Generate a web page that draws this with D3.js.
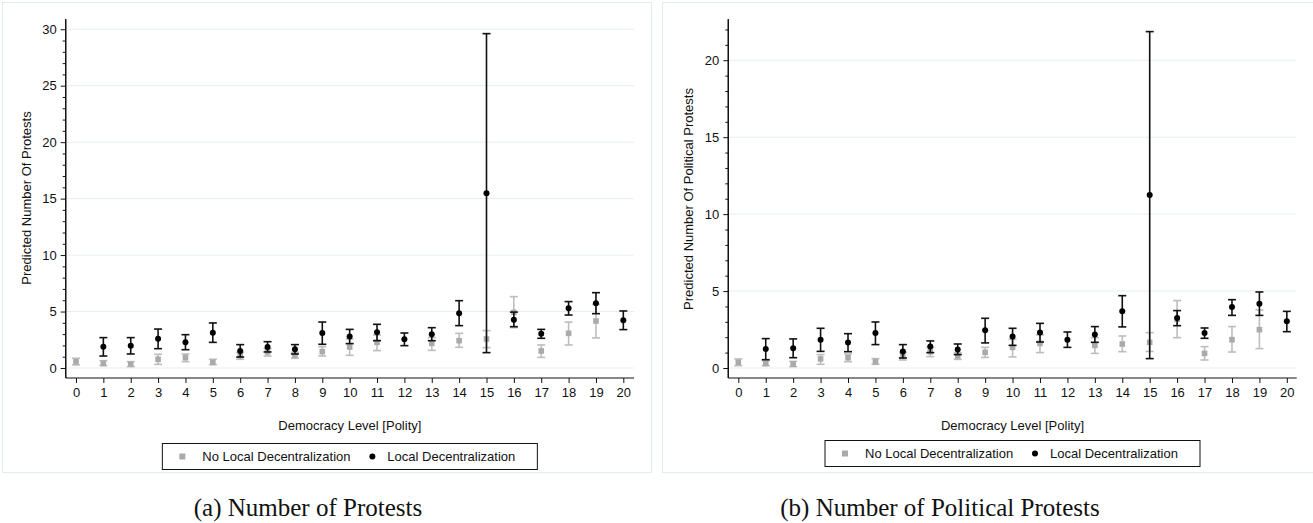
<!DOCTYPE html>
<html>
<head>
<meta charset="utf-8">
<script src="https://cdn.jsdelivr.net/npm/d3@7"></script>
<style>
  body { margin: 0; background: #fff; }
  svg text { font-family: "Liberation Sans", Arial, sans-serif; fill: #111; }
</style>
</head>
<body>
<script>
const levels = d3.range(0, 21);

// (a) Number of Protests
const protestsNoLocal = [0.56, 0.41, 0.35, 0.77, 0.92, 0.50, 1.09, 1.42, 1.15, 1.45, 1.86, 2.27, null, 2.18, 2.42, 2.57, 4.93, 1.51, 3.07, 4.16, null];
const protestsNoLocalLo = [0.27, 0.21, 0.12, 0.32, 0.56, 0.30, 0.77, 1.06, 0.86, 1.06, 1.12, 1.54, null, 1.56, 1.83, 1.80, 3.57, 0.94, 2.04, 2.66, null];
const protestsNoLocalHi = [0.86, 0.65, 0.56, 1.21, 1.24, 0.77, 1.39, 1.71, 1.39, 1.89, 2.57, 2.92, null, 2.69, 3.07, 3.31, 6.32, 2.04, 4.07, 5.64, null];
const protestsLocal = [null, 1.89, 1.98, 2.60, 2.27, 3.13, 1.51, 1.86, 1.65, 3.10, 2.78, 3.16, 2.54, 2.98, 4.84, 15.47, 4.28, 3.04, 5.28, 5.73, 4.22];
const protestsLocalLo = [null, 1.06, 1.24, 1.71, 1.62, 2.27, 0.97, 1.42, 1.24, 2.10, 2.16, 2.42, 1.98, 2.42, 3.75, 1.36, 3.66, 2.63, 4.69, 4.81, 3.40];
const protestsLocalHi = [null, 2.69, 2.69, 3.45, 2.95, 3.99, 2.07, 2.33, 2.07, 4.07, 3.42, 3.87, 3.10, 3.57, 5.96, 29.61, 4.95, 3.42, 5.88, 6.67, 5.05];

// (b) Number of Political Protests
const politicalNoLocal = [0.37, 0.30, 0.26, 0.59, 0.67, 0.41, 0.78, 1.06, 0.78, 1.02, 1.34, 1.60, null, 1.47, 1.56, 1.67, 3.16, 0.95, 1.84, 2.49, null];
const politicalNoLocalLo = [0.15, 0.15, 0.09, 0.24, 0.41, 0.24, 0.52, 0.74, 0.56, 0.69, 0.72, 1.00, null, 0.95, 1.06, 1.08, 1.97, 0.52, 1.04, 1.26, null];
const politicalNoLocalHi = [0.59, 0.48, 0.43, 0.87, 0.91, 0.61, 1.02, 1.34, 1.00, 1.34, 1.86, 2.15, null, 1.97, 2.08, 2.30, 4.38, 1.39, 2.69, 3.77, null];
const politicalLocal = [null, 1.24, 1.28, 1.84, 1.65, 2.28, 1.08, 1.39, 1.21, 2.45, 2.04, 2.30, 1.84, 2.17, 3.68, 11.25, 3.25, 2.28, 3.97, 4.18, 3.03];
const politicalLocalLo = [null, 0.54, 0.67, 1.08, 1.06, 1.52, 0.65, 1.00, 0.87, 1.63, 1.47, 1.69, 1.34, 1.67, 2.67, 0.61, 2.75, 1.93, 3.42, 3.42, 2.36];
const politicalLocalHi = [null, 1.91, 1.89, 2.58, 2.23, 2.99, 1.52, 1.76, 1.56, 3.23, 2.58, 2.90, 2.34, 2.69, 4.70, 21.86, 3.73, 2.60, 4.44, 4.94, 3.68];

const legendLabels = ["No Local Decentralization", "Local Decentralization"];
const xTitle = "Democracy Level [Polity]";

const W = 1313, H = 523;
const FS = 13;
const svg = d3.select("body").append("svg").attr("width", W).attr("height", H);

function drawPanel(opt) {
  const g = svg.append("g").attr("transform", `translate(${opt.left},0)`);

  // outer frame
  g.append("rect")
    .attr("x", 2.5).attr("y", 2.5)
    .attr("width", opt.frameW).attr("height", 470)
    .attr("fill", "none").attr("stroke", "#e3ebee").attr("stroke-width", 1);

  const x = d3.scaleLinear().domain(opt.xDomain).range([opt.axisX, opt.axisXEnd]);
  const y = d3.scaleLinear().domain(opt.yDomain).range([378, 19.3]);

  // grid
  g.append("g").selectAll("line").data(opt.yTicks).join("line")
    .attr("x1", opt.axisX).attr("x2", opt.axisXEnd)
    .attr("y1", d => y(d)).attr("y2", d => y(d))
    .attr("stroke", "#e6eef1").attr("stroke-width", 1);

  // y axis
  const minor = d3.range(0, Math.floor(opt.yDomain[1]) + 1).filter(v => v % 5 !== 0);
  const yMinor = g.append("g").attr("transform", `translate(${opt.axisX},0)`)
    .call(d3.axisLeft(y).tickValues(minor).tickSize(3).tickFormat(""));
  const yAxis = g.append("g").attr("transform", `translate(${opt.axisX},0)`)
    .call(d3.axisLeft(y).tickValues(opt.yTicks).tickSize(5).tickPadding(4));
  [yMinor, yAxis].forEach(a => {
    a.select(".domain").attr("d", `M0,19.3V378`).attr("stroke", "#111").attr("stroke-width", 1.2);
    a.selectAll(".tick line").attr("stroke", "#111");
  });
  yAxis.selectAll(".tick text").attr("font-size", FS).attr("font-family", "Liberation Sans, Arial, sans-serif").attr("fill", "#111");

  // x axis
  const xAxis = g.append("g").attr("transform", "translate(0,378)")
    .call(d3.axisBottom(x).tickValues(levels).tickSize(5).tickPadding(5).tickFormat(d3.format("d")));
  xAxis.select(".domain").attr("d", `M${opt.axisX},0H${opt.axisXEnd}`).attr("stroke", "#111").attr("stroke-width", 1.2);
  xAxis.selectAll(".tick line").attr("stroke", "#111");
  xAxis.selectAll(".tick text").attr("font-size", FS).attr("font-family", "Liberation Sans, Arial, sans-serif").attr("fill", "#111");

  // titles
  g.append("text")
    .attr("transform", `translate(${opt.yTitleX},${opt.yTitleY}) rotate(-90)`)
    .attr("text-anchor", "middle").attr("font-size", FS).text(opt.yTitle);
  g.append("text")
    .attr("x", (opt.axisX + opt.axisXEnd) / 2).attr("y", 430)
    .attr("text-anchor", "middle").attr("font-size", FS).text(xTitle);

  // series
  const series = [
    { est: opt.noLocal, lo: opt.noLocalLo, hi: opt.noLocalHi, line: "#bdbdbd", fill: "#aaaaaa", shape: "square" },
    { est: opt.local, lo: opt.localLo, hi: opt.localHi, line: "#111", fill: "#000", shape: "circle" }
  ];
  series.forEach(s => {
    const rows = levels.map((lv, i) => ({ lv, est: s.est[i], lo: s.lo[i], hi: s.hi[i] }))
      .filter(r => r.est !== null);
    const sg = g.append("g");
    sg.selectAll("line.ci").data(rows).join("line").attr("class", "ci")
      .attr("x1", d => x(d.lv)).attr("x2", d => x(d.lv))
      .attr("y1", d => y(d.lo)).attr("y2", d => y(d.hi))
      .attr("stroke", s.line).attr("stroke-width", 1.6);
    ["lo", "hi"].forEach(k => {
      sg.selectAll("line.cap" + k).data(rows).join("line").attr("class", "cap" + k)
        .attr("x1", d => x(d.lv) - 4).attr("x2", d => x(d.lv) + 4)
        .attr("y1", d => y(d[k])).attr("y2", d => y(d[k]))
        .attr("stroke", s.line).attr("stroke-width", 1.6);
    });
    if (s.shape === "circle") {
      sg.selectAll("circle").data(rows).join("circle")
        .attr("cx", d => x(d.lv)).attr("cy", d => y(d.est)).attr("r", 3).attr("fill", s.fill);
    } else {
      sg.selectAll("rect").data(rows).join("rect")
        .attr("x", d => x(d.lv) - 2.8).attr("y", d => y(d.est) - 2.8)
        .attr("width", 5.6).attr("height", 5.6).attr("fill", s.fill);
    }
  });

  // legend, centred under the plot
  const lw = 375, lh = 26;
  const lx = (opt.axisX + opt.axisXEnd) / 2 - lw / 2;
  const lg = g.append("g");
  lg.append("rect").attr("x", lx).attr("y", opt.legY).attr("width", lw).attr("height", lh)
    .attr("fill", "#fff").attr("stroke", "#111").attr("stroke-width", 1);
  const cy = opt.legY + lh / 2;
  lg.append("rect").attr("x", lx + 17).attr("y", cy - 3).attr("width", 6).attr("height", 6).attr("fill", "#aaaaaa");
  lg.append("text").attr("x", lx + 40).attr("y", cy + 4.5).attr("font-size", FS).text(legendLabels[0]);
  lg.append("circle").attr("cx", lx + 210).attr("cy", cy).attr("r", 3).attr("fill", "#000");
  lg.append("text").attr("x", lx + 225).attr("y", cy + 4.5).attr("font-size", FS).text(legendLabels[1]);

  // caption
  g.append("text")
    .attr("x", opt.capX).attr("y", 516)
    .attr("text-anchor", "middle")
    .style("font-family", "'Liberation Serif', 'DejaVu Serif', serif")
    .attr("font-size", 25).text(opt.caption);
}

drawPanel({
  left: 0, frameW: 649, axisX: 65.7, axisXEnd: 634,
  xDomain: [-0.376, 20.39], yDomain: [-0.886, 30.88], yTicks: [0, 5, 10, 15, 20, 25, 30],
  yTitle: "Predicted Number Of Protests", yTitleX: 31, yTitleY: 198,
  noLocal: protestsNoLocal, noLocalLo: protestsNoLocalLo, noLocalHi: protestsNoLocalHi,
  local: protestsLocal, localLo: protestsLocalLo, localHi: protestsLocalHi,
  legY: 443.5, capX: 308, caption: "(a) Number of Protests"
});

drawPanel({
  left: 660, frameW: 660, axisX: 68.3, axisXEnd: 636.7,
  xDomain: [-0.365, 20.36], yDomain: [-0.65, 22.66], yTicks: [0, 5, 10, 15, 20],
  yTitle: "Predicted Number Of Political Protests", yTitleX: 33, yTitleY: 199,
  noLocal: politicalNoLocal, noLocalLo: politicalNoLocalLo, noLocalHi: politicalNoLocalHi,
  local: politicalLocal, localLo: politicalLocalLo, localHi: politicalLocalHi,
  legY: 440.5, capX: 280, caption: "(b) Number of Political Protests"
});
</script>
</body>
</html>
